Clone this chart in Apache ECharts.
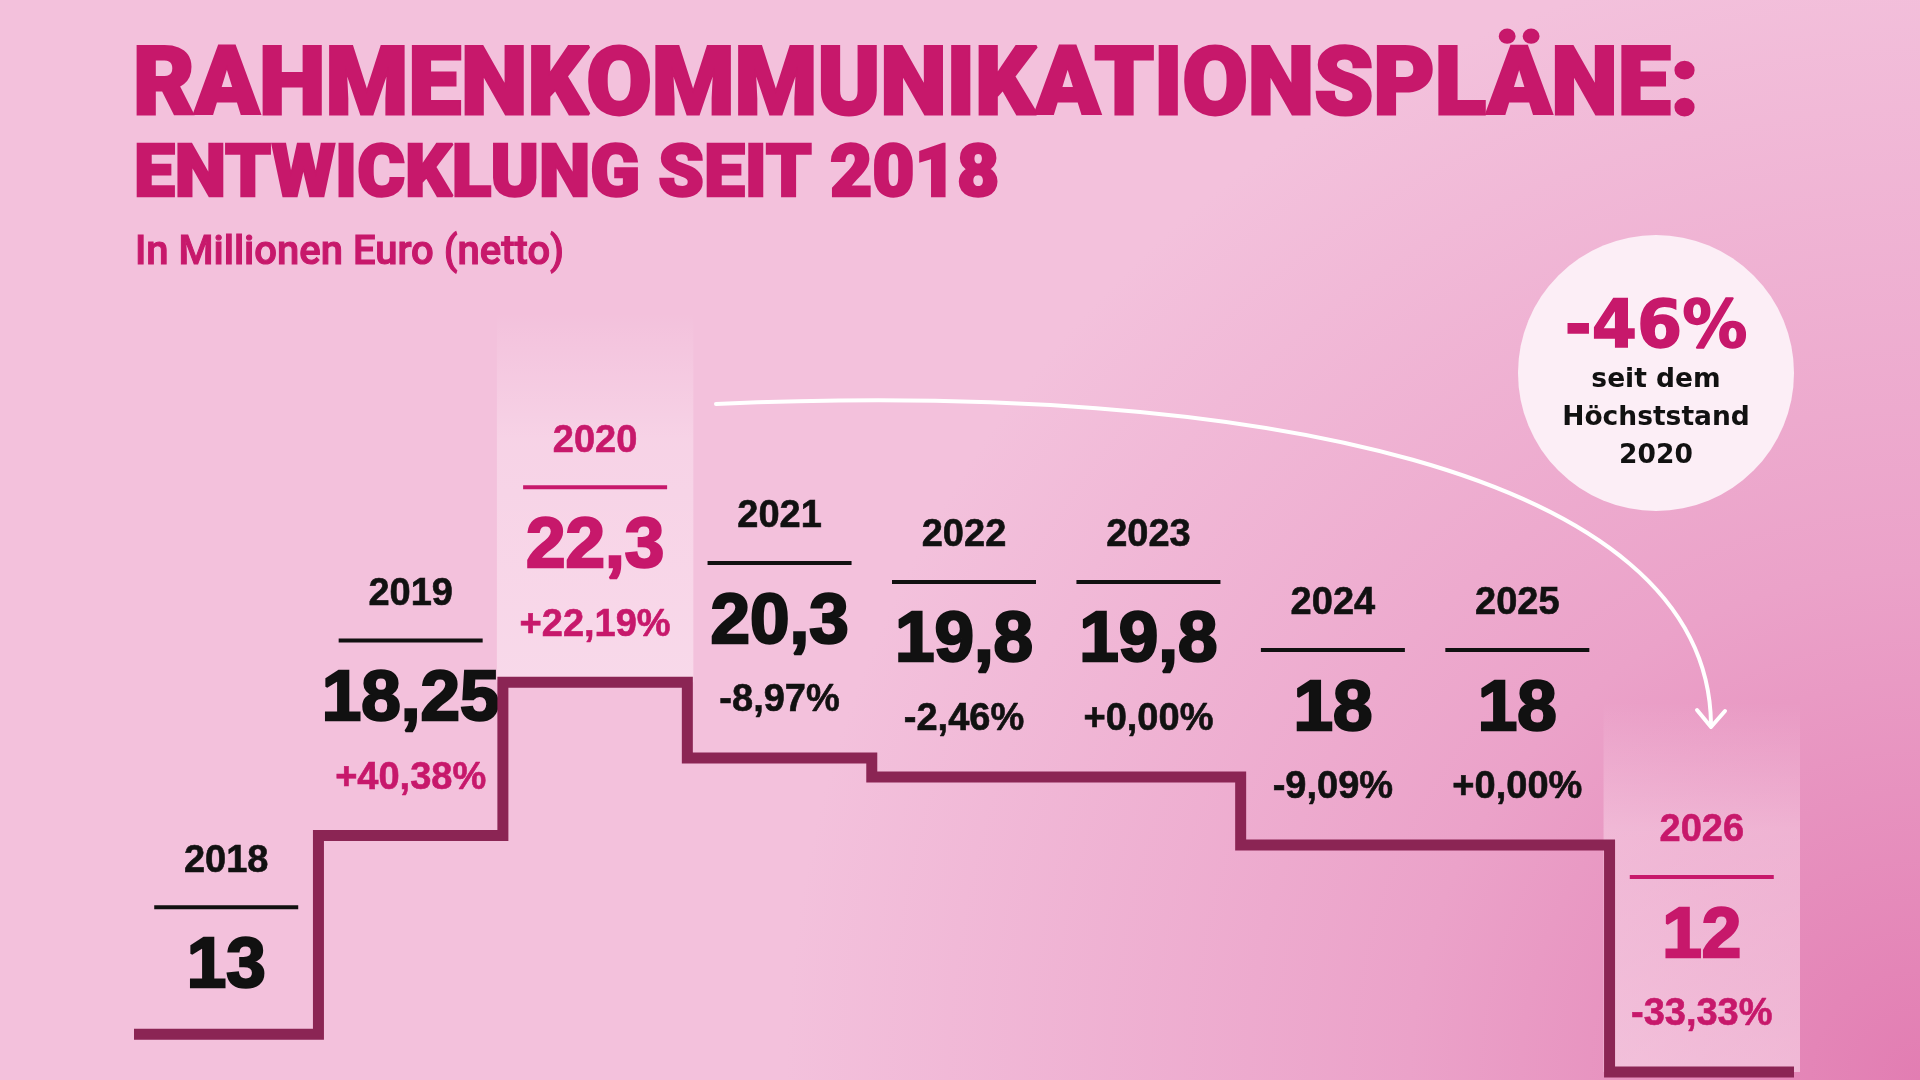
<!DOCTYPE html>
<html>
<head>
<meta charset="utf-8">
<title>Rahmenkommunikationspläne</title>
<script src="https://cdn.jsdelivr.net/npm/echarts@6/dist/echarts.min.js"></script>
<style>
  html, body { margin: 0; padding: 0; }
  #chart { width: 1920px; height: 1080px; }
</style>
</head>
<body>
<div id="chart"></div>
<script>
  // Daten: Rahmenkommunikationspläne in Mio. Euro (netto)
  var years = ['2018', '2019', '2020', '2021', '2022', '2023', '2024', '2025', '2026'];
  var values = [13, 18.25, 22.3, 20.3, 19.8, 19.8, 18, 18, 12];
  var highlightYears = ['2020', '2026'];
  var yMin = 12;
  var yMax = 24;

  var MAGENTA = '#C7186B';
  var DARK = '#8B2554';
  var BLACK = '#111111';
  var LABEL_FONT = "'Liberation Sans', Arial, sans-serif";

  function fmtValue(v) {
    return String(v).replace('.', ',');
  }
  function changeOf(i) {
    if (i === 0) return null;
    return (values[i] / values[i - 1] - 1) * 100;
  }
  function fmtChange(c) {
    return (c >= 0 ? '+' : '-') + Math.abs(c).toFixed(2).replace('.', ',') + '%';
  }

  var chart = echarts.init(document.getElementById('chart'));

  function renderStep(params, api) {
    var i = params.dataIndex;
    var p = api.coord([i, api.value(1)]);
    var bw = api.size([1, 0])[0];
    var cx = p[0], y = p[1];
    var hot = highlightYears.indexOf(years[i]) >= 0;
    var ch = changeOf(i);
    // 2018 hat keine Veraenderung -> Block rutscht nach unten
    var off = i === 0 ? 68 : 0;
    var children = [];

    if (hot) {
      children.push({
        type: 'rect',
        shape: { x: cx - bw / 2 - 6, y: y - 370, width: bw + 12, height: 370 },
        style: {
          fill: new echarts.graphic.LinearGradient(0, 0, 0, 1, [
            { offset: 0, color: 'rgba(255,245,250,0)' },
            { offset: 0.35, color: 'rgba(255,245,250,0.34)' },
            { offset: 1, color: 'rgba(255,245,250,0.46)' }
          ])
        },
        z2: 0
      });
    }

    var txtColor = hot ? MAGENTA : BLACK;
    children.push({
      type: 'text',
      x: cx, y: y - 241 + off,
      style: { text: years[i], fontFamily: LABEL_FONT, fontWeight: 'bold', fontSize: 38,
        fill: txtColor, stroke: txtColor, lineWidth: 0.6, align: 'center', verticalAlign: 'middle' },
      z2: 5
    });
    children.push({
      type: 'line',
      shape: { x1: cx - 72, y1: y - 195 + off, x2: cx + 72, y2: y - 195 + off },
      style: { stroke: txtColor, lineWidth: 4 },
      z2: 5
    });
    children.push({
      type: 'text',
      x: cx, y: y - 135 + off,
      style: { text: fmtValue(values[i]), fontFamily: LABEL_FONT, fontWeight: 'bold', fontSize: 71,
        fill: txtColor, stroke: txtColor, lineWidth: 2.5, align: 'center', verticalAlign: 'middle' },
      z2: 5
    });
    if (ch !== null) {
      var pc = (hot || ch > 0.001) ? MAGENTA : BLACK;
      children.push({
        type: 'text',
        x: cx, y: y - 57,
        style: { text: fmtChange(ch), fontFamily: LABEL_FONT, fontWeight: 'bold', fontSize: 38,
          fill: pc, stroke: pc, lineWidth: 0.6, align: 'center', verticalAlign: 'middle' },
        z2: 5
      });
    }

    // Treppenlinie einmal komplett zeichnen
    if (i === 0) {
      var pts = [];
      for (var k = 0; k < values.length; k++) {
        var q = api.coord([k, values[k]]);
        pts.push([q[0] - bw / 2, q[1]]);
        pts.push([q[0] + bw / 2, q[1]]);
      }
      children.push({
        type: 'polyline',
        shape: { points: pts },
        style: { stroke: DARK, lineWidth: 11, lineJoin: 'miter', lineCap: 'butt', fill: null },
        z2: 10
      });
    }
    return { type: 'group', children: children };
  }

  var option = {
    backgroundColor: '#F3C1DC',
    animation: false,
    grid: { left: 134, right: 126, top: 618, bottom: 8 },
    xAxis: { type: 'category', data: years, boundaryGap: true, show: false },
    yAxis: { type: 'value', min: yMin, max: yMax, show: false },
    graphic: [
      {
        type: 'rect', z: -10, silent: true,
        shape: { x: 0, y: 0, width: 1920, height: 1080 },
        style: {
          fill: new echarts.graphic.RadialGradient(1, 1, 1.05, [
            { offset: 0, color: '#E27DB2' },
            { offset: 0.45, color: '#EBA2C9' },
            { offset: 1, color: '#F3C1DC' }
          ])
        }
      },
      {
        type: 'text', x: 133, y: 90, z: 10,
        style: { text: 'RAHMENKOMMUNIKATIONSPLÄNE:', fontFamily: 'Roboto', fontWeight: 900, fontSize: 94.5,
          fill: MAGENTA, stroke: MAGENTA, lineWidth: 3, verticalAlign: 'middle' }
      },
      {
        type: 'text', x: 134, y: 178, z: 10,
        style: { text: 'ENTWICKLUNG SEIT 2018', fontFamily: 'Roboto', fontWeight: 900, fontSize: 73,
          fill: MAGENTA, stroke: MAGENTA, lineWidth: 2.5, verticalAlign: 'middle' }
      },
      {
        type: 'text', x: 135, y: 254, z: 10,
        style: { text: 'In Millionen Euro (netto)', fontFamily: 'Roboto', fontWeight: 500, fontSize: 40,
          fill: MAGENTA, stroke: MAGENTA, lineWidth: 1, verticalAlign: 'middle' }
      },
      // Pfeil vom Hoechststand zu 2026
      {
        type: 'bezierCurve', z: 5, silent: true,
        shape: { x1: 716, y1: 404, cpx1: 1250, cpy1: 380, cpx2: 1708, cpy2: 470, x2: 1711, y2: 724 },
        style: { stroke: '#FFFFFF', lineWidth: 4, fill: null, lineCap: 'round' }
      },
      {
        type: 'polyline', z: 5, silent: true,
        shape: { points: [[1697, 710], [1711, 727], [1725, 711]] },
        style: { stroke: '#FFFFFF', lineWidth: 4, fill: null, lineCap: 'round', lineJoin: 'round' }
      },
      {
        type: 'circle', z: 6, silent: true,
        shape: { cx: 1656, cy: 373, r: 138 },
        style: { fill: '#FCEEF6' }
      },
      {
        type: 'text', x: 1656, y: 330, z: 7,
        style: { text: '-46%', fontFamily: 'DejaVu Sans', fontWeight: 'bold', fontSize: 65,
          fill: MAGENTA, stroke: MAGENTA, lineWidth: 1.5, align: 'center', verticalAlign: 'middle' }
      },
      {
        type: 'text', x: 1656, y: 418, z: 7,
        style: { text: 'seit dem\nHöchststand\n2020', fontFamily: 'DejaVu Sans', fontWeight: 'bold', fontSize: 26.5,
          lineHeight: 38, fill: BLACK, align: 'center', verticalAlign: 'middle' }
      }
    ],
    series: [{
      type: 'custom',
      renderItem: renderStep,
      clip: false,
      data: values.map(function (v, i) { return [i, v]; }),
      encode: { x: 0, y: 1 }
    }]
  };

  chart.setOption(option);
</script>
</body>
</html>
